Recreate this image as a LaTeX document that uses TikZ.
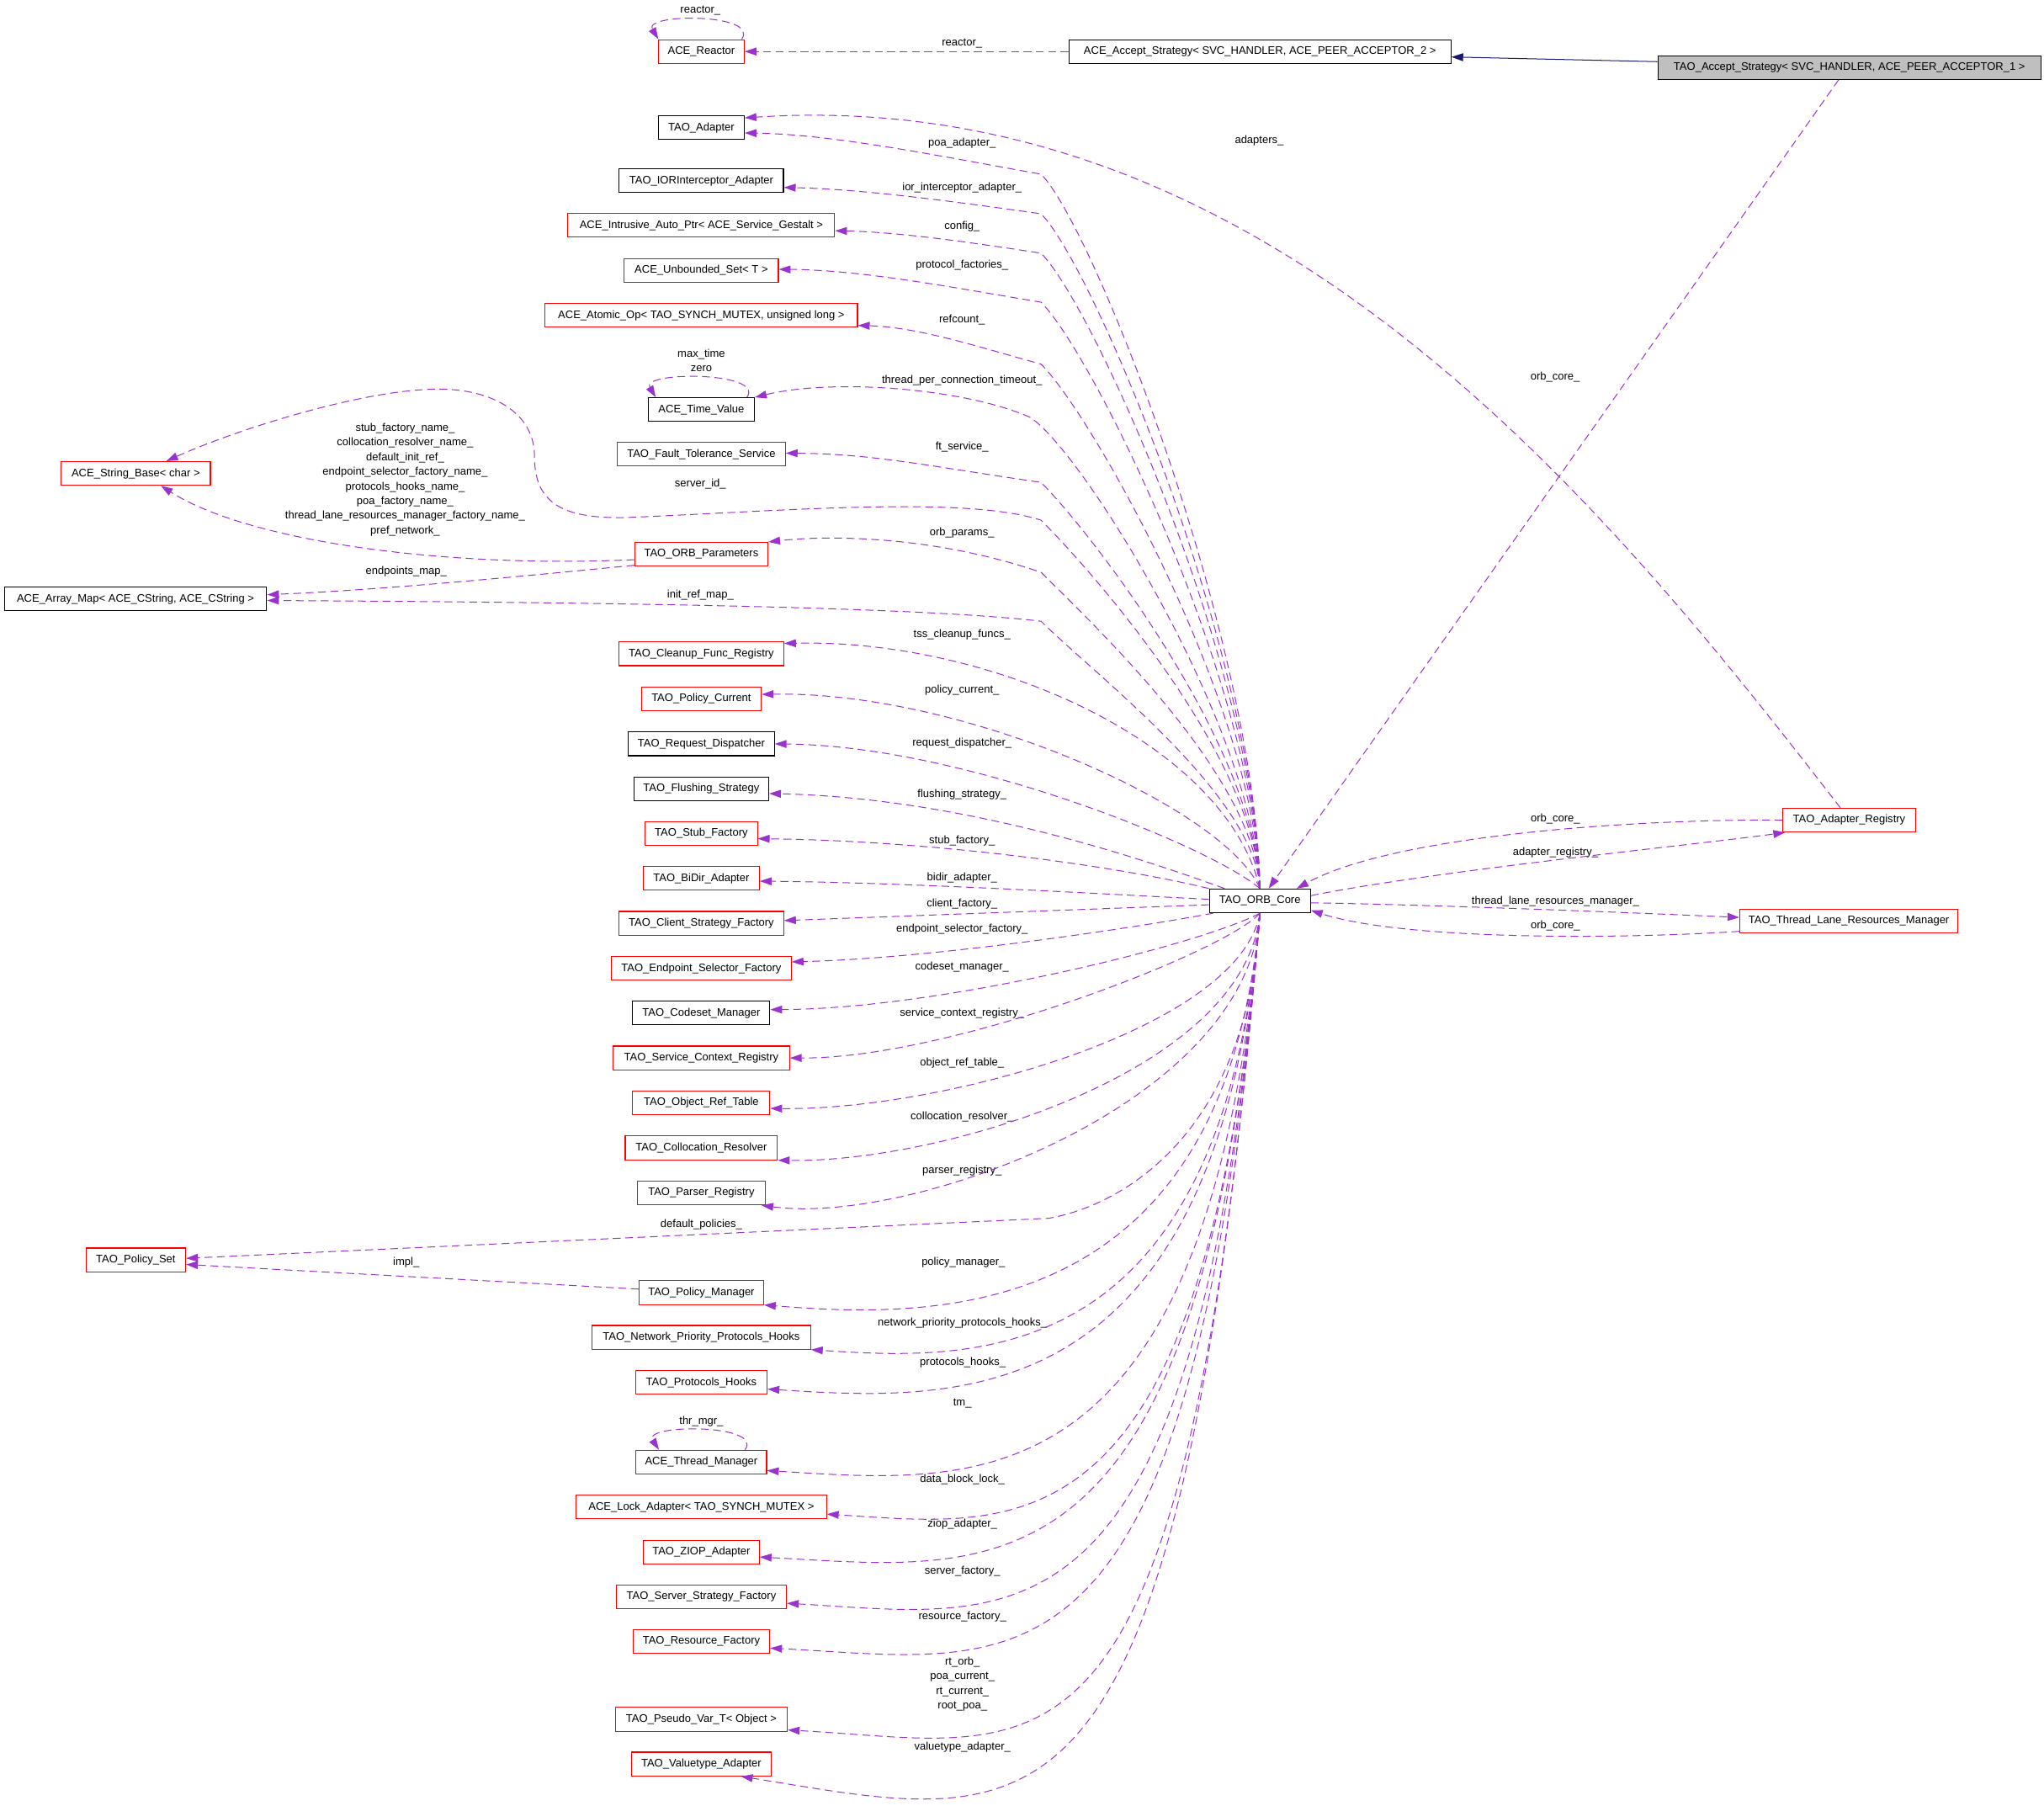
\documentclass[tikz,border=0pt]{standalone}
\usepackage{fontspec}
\setmainfont{Liberation Sans}
\usetikzlibrary{arrows.meta,calc}
\definecolor{depc}{HTML}{9A32CD}
\definecolor{inhc}{HTML}{191970}
\definecolor{redc}{HTML}{FF0000}
\definecolor{greyc}{HTML}{BFBFBF}
\begin{document}
\begin{tikzpicture}[x=1pt,y=-1pt,
  box/.style={draw=#1, line width=0.7pt, rectangle, minimum height=18.2pt, inner xsep=5pt, inner ysep=0pt, font=\fontsize{8.4}{10}\selectfont, fill=white},
  box/.default=black,
  lbl/.style={font=\fontsize{8.4}{10}\selectfont, inner sep=0pt, text height=6pt, text depth=1.7pt},
  mlbl/.style={font=\fontsize{8.4}{11.24}\selectfont, inner sep=0pt, align=center},
  dep/.style={draw=depc, line width=0.65pt, dash pattern=on 6pt off 3.5pt, -{Triangle[length=9pt,width=6pt]}},
  inhe/.style={draw=inhc, line width=0.65pt, -{Triangle[length=9pt,width=6pt]}}]
\useasboundingbox (0,0) rectangle (1568,1384.7);
\fill[white] (0,0) rectangle (1568,1384.7);

% ---------- nodes ----------
\node[box=redc, minimum width=65.8pt] (reactor) at (538,39.5) {ACE\_Reactor};
\node[box, minimum width=293.1pt] (acc2) at (966.5,39.5) {ACE\_Accept\_Strategy< SVC\_HANDLER, ACE\_PEER\_ACCEPTOR\_2 >};
\node[box, fill=greyc, minimum width=293.7pt] (acc1) at (1418.7,51.8) {TAO\_Accept\_Strategy< SVC\_HANDLER, ACE\_PEER\_ACCEPTOR\_1 >};
\node[box, minimum width=65.8pt] (adapter) at (538,98) {TAO\_Adapter};
\node[box, minimum width=126pt] (ior) at (538,138.6) {TAO\_IORInterceptor\_Adapter};
\node[box=redc, minimum width=204.6pt] (intr) at (538,172.9) {ACE\_Intrusive\_Auto\_Ptr< ACE\_Service\_Gestalt >};
\node[box=redc, minimum width=118.2pt] (unb) at (538,207.4) {ACE\_Unbounded\_Set< T >};
\node[box=redc, minimum width=239.6pt] (atomic) at (538,241.9) {ACE\_Atomic\_Op< TAO\_SYNCH\_MUTEX, unsigned long >};
\node[box, minimum width=81.5pt] (timev) at (538,314.2) {ACE\_Time\_Value};
\node[box=redc, minimum width=128.9pt] (ft) at (538,348.4) {TAO\_Fault\_Tolerance\_Service};
\node[box=redc, minimum width=114.5pt] (strbase) at (104.15,363.2) {ACE\_String\_Base< char >};
\node[box=redc, minimum width=102.1pt] (params) at (538,425.1) {TAO\_ORB\_Parameters};
\node[box, minimum width=201.3pt] (arraymap) at (103.95,459.5) {ACE\_Array\_Map< ACE\_CString, ACE\_CString >};
\node[box=redc, minimum width=126.4pt] (cleanup) at (538,501.5) {TAO\_Cleanup\_Func\_Registry};
\node[box=redc, minimum width=92pt] (polcur) at (538,536) {TAO\_Policy\_Current};
\node[box, minimum width=112pt] (reqdisp) at (538,570.6) {TAO\_Request\_Dispatcher};
\node[box, minimum width=103.4pt] (flush) at (538,605) {TAO\_Flushing\_Strategy};
\node[box=redc, minimum width=86pt] (stubf) at (538,639.4) {TAO\_Stub\_Factory};
\node[box=redc, minimum width=89pt] (bidir) at (538,673.8) {TAO\_BiDir\_Adapter};
\node[box=redc, minimum width=126.4pt] (clientf) at (538,708.2) {TAO\_Client\_Strategy\_Factory};
\node[box=redc, minimum width=138pt] (endsel) at (538,742.9) {TAO\_Endpoint\_Selector\_Factory};
\node[box, minimum width=105.2pt] (codeset) at (538,777.1) {TAO\_Codeset\_Manager};
\node[box=redc, minimum width=135.2pt] (svcctx) at (538,811.5) {TAO\_Service\_Context\_Registry};
\node[box=redc, minimum width=105.2pt] (objref) at (538,845.9) {TAO\_Object\_Ref\_Table};
\node[box=redc, minimum width=116.8pt] (colloc) at (538,880.5) {TAO\_Collocation\_Resolver};
\node[box=redc, minimum width=97.7pt] (parser) at (538,915.1) {TAO\_Parser\_Registry};
\node[box=redc, minimum width=76.5pt] (policyset) at (104.15,966.4) {TAO\_Policy\_Set};
\node[box=redc, minimum width=95.5pt] (polmgr) at (538,991.5) {TAO\_Policy\_Manager};
\node[box=redc, minimum width=167.6pt] (netprio) at (538,1025.8) {TAO\_Network\_Priority\_Protocols\_Hooks};
\node[box=redc, minimum width=100.9pt] (prothooks) at (538,1060.5) {TAO\_Protocols\_Hooks};
\node[box=redc, minimum width=100.1pt] (thrmgr) at (538,1121.5) {ACE\_Thread\_Manager};
\node[box=redc, minimum width=192pt] (lockad) at (538,1155.9) {ACE\_Lock\_Adapter< TAO\_SYNCH\_MUTEX >};
\node[box=redc, minimum width=89pt] (ziop) at (538,1190.5) {TAO\_ZIOP\_Adapter};
\node[box=redc, minimum width=130.6pt] (srvf) at (538,1224.9) {TAO\_Server\_Strategy\_Factory};
\node[box=redc, minimum width=105pt] (resf) at (538,1259) {TAO\_Resource\_Factory};
\node[box=redc, minimum width=132pt] (pseudo) at (538,1318.8) {TAO\_Pseudo\_Var\_T< Object >};
\node[box=redc, minimum width=107.4pt] (valuet) at (538,1353.1) {TAO\_Valuetype\_Adapter};
\node[box, minimum width=77.5pt] (core) at (966.5,691) {TAO\_ORB\_Core};
\node[box=redc, minimum width=101.6pt] (reg) at (1418.5,629.1) {TAO\_Adapter\_Registry};
\node[box=redc, minimum width=167.4pt] (tl) at (1418.3,706.6) {TAO\_Thread\_Lane\_Resources\_Manager};

% ---------- labels ----------
\node[lbl] (Lreact) at (537.3,8.1) {reactor\_};
\node[lbl] (Lreact2) at (738,33) {reactor\_};
\node[lbl] (Ladapters) at (966,108) {adapters\_};
\node[lbl] (Lorbc1) at (1193,289.6) {orb\_core\_};
\node[lbl] (Lpoa) at (738,110) {poa\_adapter\_};
\node[lbl] (Lior) at (738,143.8) {ior\_interceptor\_adapter\_};
\node[lbl] (Lconfig) at (738,173.5) {config\_};
\node[lbl] (Lprotf) at (738,203.4) {protocol\_factories\_};
\node[lbl] (Lref) at (738,245.3) {refcount\_};
\node[lbl] (Lmax) at (538,271.6) {max\_time};
\node[lbl] (Lzero) at (538,283.1) {zero};
\node[lbl] (Ltpct) at (738,292) {thread\_per\_connection\_timeout\_};
\node[lbl] (Lft) at (738,343) {ft\_service\_};
\node[lbl] (Lsid) at (537.3,371.2) {server\_id\_};
\node[mlbl] (Lstr) at (310.8,368) {stub\_factory\_name\_\\collocation\_resolver\_name\_\\default\_init\_ref\_\\endpoint\_selector\_factory\_name\_\\protocols\_hooks\_name\_\\poa\_factory\_name\_\\thread\_lane\_resources\_manager\_factory\_name\_\\pref\_network\_};
\node[lbl] (Lpar) at (738,409) {orb\_params\_};
\node[lbl] (Lepm) at (311.6,438.3) {endpoints\_map\_};
\node[lbl] (Lirm) at (537.3,456.2) {init\_ref\_map\_};
\node[lbl] (Ltss) at (738,487) {tss\_cleanup\_funcs\_};
\node[lbl] (Lpc) at (738,529.4) {policy\_current\_};
\node[lbl] (Lrd) at (738,570.4) {request\_dispatcher\_};
\node[lbl] (Lfs) at (738,609.8) {flushing\_strategy\_};
\node[lbl] (Lsf) at (738,645.3) {stub\_factory\_};
\node[lbl] (Lba) at (738,673.5) {bidir\_adapter\_};
\node[lbl] (Lcf) at (738,693.7) {client\_factory\_};
\node[lbl] (Lesf) at (738,713) {endpoint\_selector\_factory\_};
\node[lbl] (Lcm) at (738,741.6) {codeset\_manager\_};
\node[lbl] (Lscr) at (738,777.3) {service\_context\_registry\_};
\node[lbl] (Lort) at (738,815.6) {object\_ref\_table\_};
\node[lbl] (Lcr) at (738,856.8) {collocation\_resolver\_};
\node[lbl] (Lpr) at (738,898.3) {parser\_registry\_};
\node[lbl] (Ldp) at (538,939.3) {default\_policies\_};
\node[lbl] (Limpl) at (311.6,968.4) {impl\_};
\node[lbl] (Lpm) at (739,968.2) {policy\_manager\_};
\node[lbl] (Lnpph) at (738.3,1015.1) {network\_priority\_protocols\_hooks\_};
\node[lbl] (Lph) at (738.6,1044.9) {protocols\_hooks\_};
\node[lbl] (Ltm) at (738.3,1076.5) {tm\_};
\node[lbl] (Lthr) at (538,1090.6) {thr\_mgr\_};
\node[lbl] (Ldbl) at (738.3,1135) {data\_block\_lock\_};
\node[lbl] (Lza) at (738.3,1169.4) {ziop\_adapter\_};
\node[lbl] (Lsvf) at (738.3,1205) {server\_factory\_};
\node[lbl] (Lrf) at (738.3,1240) {resource\_factory\_};
\node[mlbl] (Lrt) at (738.3,1291.75) {rt\_orb\_\\poa\_current\_\\rt\_current\_\\root\_poa\_};
\node[lbl] (Lva) at (738.3,1340) {valuetype\_adapter\_};
\node[lbl] (Lorbc2) at (1193.2,627.9) {orb\_core\_};
\node[lbl] (Lar) at (1193.2,653.8) {adapter\_registry\_};
\node[lbl] (Ltlrm) at (1193.2,691.4) {thread\_lane\_resources\_manager\_};
\node[lbl] (Lorbc3) at (1193.2,710) {orb\_core\_};

% ---------- top / right edges ----------
\draw[inhe] ($(acc1.west)+(0,-4.5)$) -- ($(acc2.east)+(0,4.2)$);
\draw[dep] (acc2.west) -- (reactor.east);
\draw[dep] ($(reactor.north)+(31,0)$) .. controls +(14,-20) and +(-12,-20) .. ($(reactor.north)+(-33,0)$);
\draw[dep] ($(acc1.south)+(-8.3,0)$) -- ($(core.north)+(6.7,0)$);
\draw[dep] ($(reg.north)+(-6.7,0)$) .. controls (1228.8,382.8) and (971,64.4) .. ($(adapter.east)+(0,-7.6)$);
\draw[dep] (reg.west) .. controls (1260,628) and (1070,640) .. ($(core.north)+(28.2,0)$);
\draw[dep] ($(core.east)+(0,-4)$) .. controls (1100,668) and (1300,648) .. ($(reg.south west)+(2,0)$);
\draw[dep] ($(core.east)+(0,1.5)$) .. controls (1100,694) and (1250,700) .. ($(tl.west)+(0,-2.9)$);
\draw[dep] ($(tl.west)+(0,7.8)$) .. controls (1250,720) and (1080,722) .. ($(core.east)+(0,7.3)$);

% ---------- upper edges from core ----------
\draw[dep] (core.north) .. controls (962.7,490) and (838.6,173.6) .. (798.6,133.6) .. controls (719,119.4) and (639,103) .. ($(adapter.east)+(0,4)$);
\draw[dep] (core.north) .. controls (962.7,501) and (838.6,204) .. (798.6,164) .. controls (728,154) and (660,145) .. ($(ior.east)+(0,5.2)$);
\draw[dep] (core.north) .. controls (962.7,511) and (838.6,234.2) .. (798.6,194.2) .. controls (745,186) and (690,178) .. ($(intr.east)+(0,4.1)$);
\draw[dep] (core.north) .. controls (962.7,524.4) and (838.6,271.8) .. (798.6,231.8) .. controls (728,220) and (660,207) .. ($(unb.east)+(0,-0.8)$);
\draw[dep] (core.north) .. controls (962.7,541) and (838.6,319.3) .. (798.6,279.3) .. controls (750,266) and (705,251) .. ($(atomic.east)+(0,7.7)$);
\draw[dep] (core.north) .. controls (962.7,560) and (830,345) .. (790,320) .. controls (740,298) and (640,290) .. (timev.north east);
\draw[dep] ($(timev.north)+(35,0)$) .. controls +(14,-20) and +(-12,-20) .. ($(timev.north)+(-35,0)$);
\draw[dep] (core.north) .. controls (962.7,572.8) and (838.6,410) .. (798.6,370) .. controls (715,358) and (670,348) .. ($(ft.east)+(0,-0.8)$);
\draw[dep] (core.north) .. controls (962.7,580) and (838.6,439) .. (798.6,399) .. controls (740,380) and (600,392) .. (480,397) .. controls (430,398) and (410,385) .. (410,350) .. controls (410,315) and (375,298.5) .. (337.6,298.5) .. controls (280,298) and (180,330) .. ($(strbase.north)+(23.4,0)$);
\draw[dep] (core.north) .. controls (962.7,595) and (838.6,479) .. (798.6,439) .. controls (720,412) and (640,410) .. (params.north east);
\draw[dep] (core.north) .. controls (962.7,610) and (838.6,516.5) .. (798.6,476.5) .. controls (700,465) and (450,462) .. ($(arraymap.east)+(0,1.1)$);
\draw[dep] (core.north) .. controls (940,570) and (760,490) .. ($(cleanup.north east)+(0,1.5)$);
\draw[dep] (core.north) .. controls (940,620) and (740,530) .. ($(polcur.east)+(0,-3.4)$);
\draw[dep] (core.north) .. controls (930,650) and (740,572) .. (reqdisp.east);
\draw[dep] ($(core.north west)+(12,0)$) .. controls (880,660) and (740,612) .. ($(flush.east)+(0,3.7)$);
\draw[dep] (core.north west) .. controls (860,665) and (720,645) .. ($(stubf.east)+(0,3.9)$);
\draw[dep] ($(core.west)+(0,-1.2)$) .. controls (850,686) and (700,677) .. ($(bidir.east)+(0,2.1)$);
\draw[dep] ($(core.west)+(0,3)$) -- ($(clientf.east)+(0,-2.1)$);
\draw[dep] ($(core.south west)+(3.3,0)$) .. controls (880,710) and (720,735) .. ($(endsel.east)+(0,-5.1)$);

% ---------- lower edges from core ----------
\draw[dep] (core.south) .. controls (920,725) and (720,774) .. ($(codeset.east)+(0,-2.7)$);
\draw[dep] (core.south) .. controls (940,730) and (730,812) .. (svcctx.east);
\draw[dep] (core.south) .. controls (950,790) and (720,852) .. ($(objref.east)+(0,4.3)$);
\draw[dep] (core.south) .. controls (955,823) and (720,892) .. (colloc.south east);
\draw[dep] (core.south) .. controls (958,846) and (700,940) .. ($(parser.south east)+(-3,0)$);
\draw[dep] (core.south) .. controls (958,870) and (860,925) .. (804.3,934.5) -- ($(policyset.east)+(0,-1.2)$);
\draw[dep] ($(polmgr.west)+(0,-2.7)$) -- ($(policyset.east)+(0,3.5)$);
\draw[dep] (core.south) .. controls (939.5,1014.2) and (720,1012) .. (polmgr.south east);
\draw[dep] (core.south) .. controls (936.6,1050.1) and (751,1044) .. (netprio.south east);
\draw[dep] (core.south) .. controls (933.8,1085.4) and (736.4,1075) .. ($(prothooks.east)+(0,5)$);
\draw[dep] (core.south) .. controls (928.1,1157.9) and (751.6,1138) .. ($(thrmgr.east)+(0,6.5)$);
\draw[dep] ($(thrmgr.north)+(33.5,0)$) .. controls +(15,-20) and +(-13,-20) .. ($(thrmgr.north)+(-32.5,0)$);
\draw[dep] (core.south) .. controls (925.2,1196.2) and (784.7,1171) .. ($(lockad.east)+(0,5.5)$);
\draw[dep] (core.south) .. controls (922.2,1235.2) and (765.1,1204) .. ($(ziop.east)+(0,3.8)$);
\draw[dep] (core.south) .. controls (919,1277.8) and (783.9,1240) .. ($(srvf.east)+(0,4.9)$);
\draw[dep] (core.south) .. controls (915.9,1319.5) and (786,1274) .. ($(resf.east)+(0,5.2)$);
\draw[dep] (core.south) .. controls (910.3,1397.2) and (806.9,1338) .. ($(pseudo.east)+(0,8.2)$);
\draw[dep] (core.south) .. controls (905,1440) and (800,1400) .. ($(valuet.south east)+(-23.7,0)$);

% ---------- left subgraph ----------
\draw[dep] ($(params.west)+(0,4.2)$) .. controls (340,436) and (190,415) .. ($(strbase.south)+(19.35,0)$);
\draw[dep] ($(params.west)+(0,8.5)$) .. controls (400,442) and (300,452) .. ($(arraymap.east)+(0,-3.3)$);
\end{tikzpicture}
\end{document}
